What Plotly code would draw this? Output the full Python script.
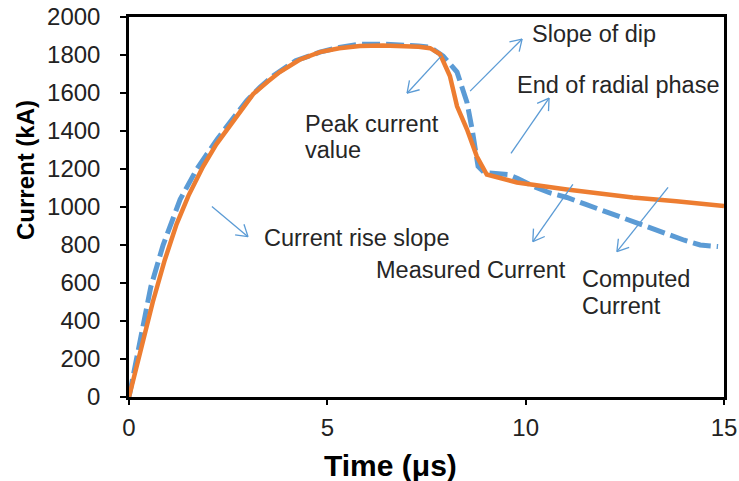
import math
import plotly.graph_objects as go

# Measured discharge current (kA) versus time (µs)
t_measured = [0, 0.25, 0.55, 0.86, 1.29, 1.71, 2.22, 2.6, 2.97, 3.3, 3.63, 4.2, 4.81, 5.3,
              5.82, 6.4, 6.9, 7.3, 7.59, 7.92, 8.27, 8.52, 8.65, 8.8, 8.95, 9.35, 9.55,
              9.8, 10.18, 10.6, 11.04, 11.5, 11.87, 12.3, 12.7, 13.1, 13.56, 14.0, 14.4, 14.85]
i_measured = [0, 280, 580, 800, 1040, 1200, 1356, 1460, 1560, 1630, 1690, 1770, 1815, 1840,
              1857, 1857, 1855, 1848, 1841, 1794, 1710, 1551, 1409, 1214, 1182, 1171, 1171,
              1150, 1110, 1075, 1050, 1015, 987, 955, 923, 890, 855, 825, 800, 792]

# Computed (model) current
t_computed = [0, 0.3, 0.6, 0.9, 1.2, 1.5, 1.87, 2.2, 2.47, 2.8, 3.13, 3.5, 3.8, 4.3, 4.81,
              5.3, 5.82, 6.4, 6.9, 7.3, 7.59, 7.84, 8.09, 8.27, 8.52, 8.77, 9.02, 9.78,
              11.04, 12.7, 13.8, 15]
i_computed = [0, 250, 500, 720, 910, 1060, 1214, 1330, 1409, 1505, 1594, 1660, 1710, 1775, 1815,
              1835, 1847, 1850, 1847, 1843, 1836, 1805, 1689, 1530, 1409, 1266, 1171, 1129,
              1092, 1050, 1030, 1005]

x_ticks = [0, 5, 10, 15]
y_ticks = [0, 200, 400, 600, 800, 1000, 1200, 1400, 1600, 1800, 2000]

# Callout arrows: (tail_t, tail_i, head_t, head_i)
arrows = [
    (7.87, 1794, 7.01, 1599),    # peak current value
    (8.60, 1610, 9.91, 1884),    # slope of dip
    (9.63, 1282, 10.59, 1573),   # end of radial phase
    (2.09, 1003, 3.00, 844),     # current rise slope
    (11.19, 1119, 10.18, 818),   # measured current
    (13.59, 1103, 12.30, 765),   # computed current
]

# Callout labels: (text, left t, centre i)
labels = [
    ("Slope of dip", 10.12, 1913),
    ("End of radial phase", 9.74, 1640),
    ("Peak current", 4.39, 1435),
    ("value", 4.39, 1302),
    ("Current rise slope", 3.36, 839),
    ("Measured Current", 6.18, 669),
    ("Computed", 11.38, 622),
    ("Current", 11.38, 479),
]

W, H = 739, 481
M = dict(l=129, r=15, t=17, b=84)
X_RANGE = [0, 15]
Y_RANGE = [0, 2000]
px_x = (W - M["l"] - M["r"]) / (X_RANGE[1] - X_RANGE[0])
px_y = (H - M["t"] - M["b"]) / (Y_RANGE[1] - Y_RANGE[0])

ARROW_COLOR = "#5b9bd5"
TEXT_COLOR = "#262626"
FONT = "Liberation Sans, Arial, sans-serif"

fig = go.Figure()
fig.add_trace(go.Scatter(
    x=t_measured, y=i_measured, mode="lines", name="Measured Current",
    line=dict(color="#5b9bd5", width=5, dash="18px,6px"),
))
fig.add_trace(go.Scatter(
    x=t_computed, y=i_computed, mode="lines", name="Computed Current",
    line=dict(color="#ed7d31", width=4.5),
))

shapes = []
barb_len = 13.0
barb_ang = math.radians(32)
for tx, ty, hx, hy in arrows:
    shapes.append(dict(type="line", xref="x", yref="y", x0=tx, y0=ty, x1=hx, y1=hy,
                       line=dict(color=ARROW_COLOR, width=1.3)))
    dx = (hx - tx) * px_x
    dy = (hy - ty) * px_y
    n = math.hypot(dx, dy)
    ux, uy = -dx / n, -dy / n
    for s in (1, -1):
        c, si = math.cos(s * barb_ang), math.sin(s * barb_ang)
        bx = (ux * c - uy * si) * barb_len
        by = (ux * si + uy * c) * barb_len
        shapes.append(dict(type="line", xref="x", yref="y", x0=hx, y0=hy,
                           x1=hx + bx / px_x, y1=hy + by / px_y,
                           line=dict(color=ARROW_COLOR, width=1.3)))

annotations = []
for text, lx, ly in labels:
    annotations.append(dict(text=text, x=lx, y=ly, xref="x", yref="y",
                            xanchor="left", yanchor="middle", showarrow=False,
                            font=dict(family=FONT, size=23.5, color=TEXT_COLOR)))

# Axis titles
annotations.append(dict(text="<b>Time (μs)</b>", x=(390 - M["l"]) / (W - M["l"] - M["r"]),
                        y=(H - M["b"] - 465) / (H - M["t"] - M["b"]), xref="paper", yref="paper",
                        xanchor="center", yanchor="middle", showarrow=False,
                        font=dict(family=FONT, size=30, color="#000000")))
annotations.append(dict(text="<b>Current (kA)</b>", x=(25 - M["l"]) / (W - M["l"] - M["r"]),
                        y=(H - M["b"] - 170) / (H - M["t"] - M["b"]), xref="paper", yref="paper",
                        xanchor="center", yanchor="middle", textangle=-90, showarrow=False,
                        font=dict(family=FONT, size=24, color="#000000")))

axis_common = dict(showgrid=False, zeroline=False, showline=True, mirror=True,
                   linecolor="#000000", linewidth=2.5, ticks="outside", tickcolor="#000000",
                   tickwidth=1.5, automargin=False,
                   tickfont=dict(family=FONT, size=24, color="#222222"))

fig.update_layout(
    width=W, height=H, margin=dict(M, autoexpand=False),
    paper_bgcolor="white", plot_bgcolor="white",
    showlegend=False,
    shapes=shapes, annotations=annotations,
    xaxis=dict(range=X_RANGE, tickvals=x_ticks, ticklen=5, ticklabelstandoff=2, **axis_common),
    yaxis=dict(range=Y_RANGE, tickvals=y_ticks, ticklen=6, ticklabelstandoff=15, **axis_common),
)

fig.write_html("out.html")
